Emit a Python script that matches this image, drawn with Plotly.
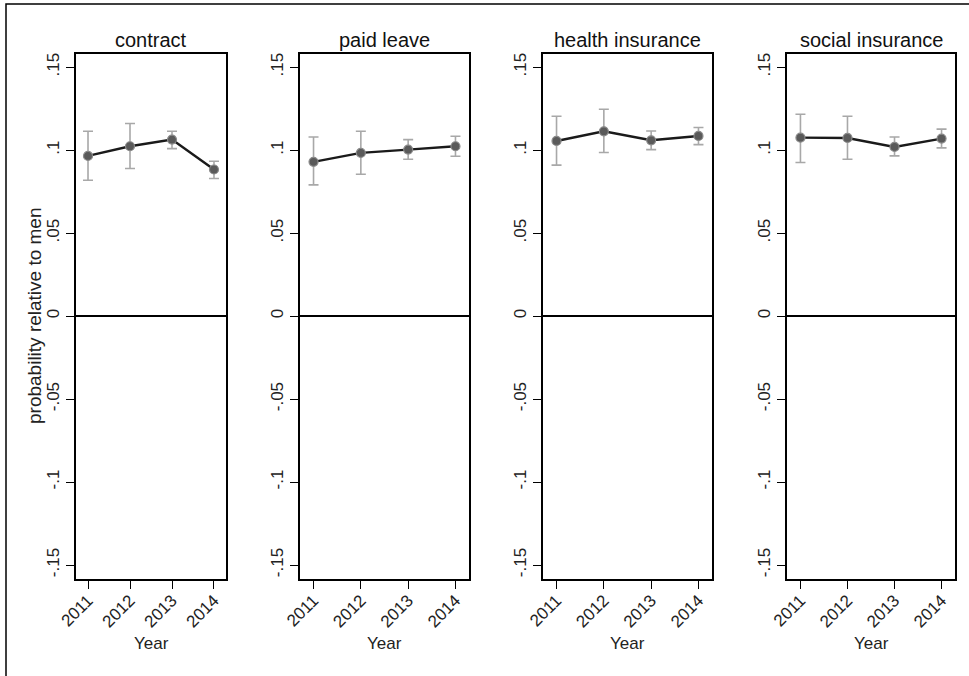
import plotly.graph_objects as go

# Survey years on the horizontal axis
years = [2011, 2012, 2013, 2014]

# Point estimates and 95% confidence bounds, per outcome
contract_est = [0.0966, 0.1024, 0.1064, 0.0884]
contract_hi = [0.1114, 0.1161, 0.1114, 0.0934]
contract_lo = [0.0819, 0.0890, 0.1010, 0.0830]

paid_leave_est = [0.0930, 0.0984, 0.1004, 0.1024]
paid_leave_hi = [0.1080, 0.1114, 0.1064, 0.1084]
paid_leave_lo = [0.0791, 0.0855, 0.0946, 0.0964]

health_est = [0.1056, 0.1114, 0.1060, 0.1086]
health_hi = [0.1205, 0.1247, 0.1116, 0.1137]
health_lo = [0.0910, 0.0986, 0.1004, 0.1034]

social_est = [0.1076, 0.1074, 0.1020, 0.1070]
social_hi = [0.1217, 0.1205, 0.1080, 0.1127]
social_lo = [0.0926, 0.0946, 0.0966, 0.1014]

panel_titles = ["contract", "paid leave", "health insurance", "social insurance"]
y_tick_vals = [0.15, 0.1, 0.05, 0, -0.05, -0.1, -0.15]
y_tick_text = [".15", ".1", ".05", "0", "-.05", "-.1", "-.15"]
x_title = "Year"
y_title = "probability relative to men"

panels = [
    (contract_est, contract_hi, contract_lo),
    (paid_leave_est, paid_leave_hi, paid_leave_lo),
    (health_est, health_hi, health_lo),
    (social_est, social_hi, social_lo),
]

W, H = 969, 676
# plot-box edges in pixels (left, right); shared top/bottom
boxes = [(76, 226), (300, 469), (543, 712), (787, 955)]
top_px, bot_px = 54, 579

FONT = "Liberation Sans, Arial, sans-serif"

fig = go.Figure()
annotations = []

for i, ((est, hi, lo), (x0, x1)) in enumerate(zip(panels, boxes)):
    n = "" if i == 0 else str(i + 1)
    err_up = [h - e for h, e in zip(hi, est)]
    err_dn = [e - l for e, l in zip(est, lo)]
    fig.add_trace(go.Scatter(
        x=years, y=est, mode="lines+markers",
        xaxis="x" + n, yaxis="y" + n,
        line=dict(color="#1a1a1a", width=2.4),
        marker=dict(size=9, color="#5a5a5a", line=dict(color="#8a8a8a", width=1.2)),
        error_y=dict(type="data", symmetric=False, array=err_up, arrayminus=err_dn,
                     color="#a8a8a8", thickness=1.6, width=5),
        showlegend=False,
    ))
    xdom = [x0 / W, x1 / W]
    ydom = [1 - bot_px / H, 1 - top_px / H]
    fig.update_layout(**{
        "xaxis" + n: dict(
            domain=xdom, anchor="y" + n, range=[2010.714, 2014.286],
            automargin=False,
            tickvals=years, ticktext=[str(y) for y in years], tickangle=-45,
            ticks="outside", ticklen=8, tickwidth=1.4, tickcolor="black",
            ticklabelstandoff=-5,
            showline=True, mirror=True, linecolor="black", linewidth=1.6,
            showgrid=False, zeroline=False,
            tickfont=dict(family=FONT, size=17, color="#222"),
        ),
        "yaxis" + n: dict(
            domain=ydom, anchor="x" + n, range=[-0.1584, 0.158],
            automargin=False,
            tickvals=y_tick_vals, ticktext=y_tick_text, tickangle=-90,
            ticks="outside", ticklen=8, tickwidth=1.4, tickcolor="black",
            showline=True, mirror=True, linecolor="black", linewidth=1.6,
            showgrid=False, zeroline=True, zerolinecolor="black", zerolinewidth=1.6,
            tickfont=dict(family=FONT, size=17, color="#222"),
        ),
    })
    annotations.append(dict(
        text=panel_titles[i], xref="paper", yref="paper",
        x=(x0 + x1) / 2 / W, y=1 - 40 / H, xanchor="center", yanchor="middle",
        showarrow=False, font=dict(family=FONT, size=20, color="#111"),
    ))
    annotations.append(dict(
        text=x_title, xref="paper", yref="paper",
        x=(x0 + x1) / 2 / W, y=1 - 643 / H, xanchor="center", yanchor="middle",
        showarrow=False, font=dict(family=FONT, size=17, color="#222"),
    ))

annotations.append(dict(
    text=y_title, xref="paper", yref="paper", x=35 / W, y=1 - 316 / H,
    xanchor="center", yanchor="middle", textangle=-90, showarrow=False,
    font=dict(family=FONT, size=19, color="#222"),
))

fig.update_layout(
    width=W, height=H,
    margin=dict(l=0, r=0, t=0, b=0),
    paper_bgcolor="white", plot_bgcolor="white",
    annotations=annotations,
    shapes=[dict(type="rect", xref="paper", yref="paper",
                 x0=6 / W, x1=1.02, y0=-0.02, y1=1 - 4 / H,
                 line=dict(color="black", width=1.5))],
)

fig.write_html("out.html")
